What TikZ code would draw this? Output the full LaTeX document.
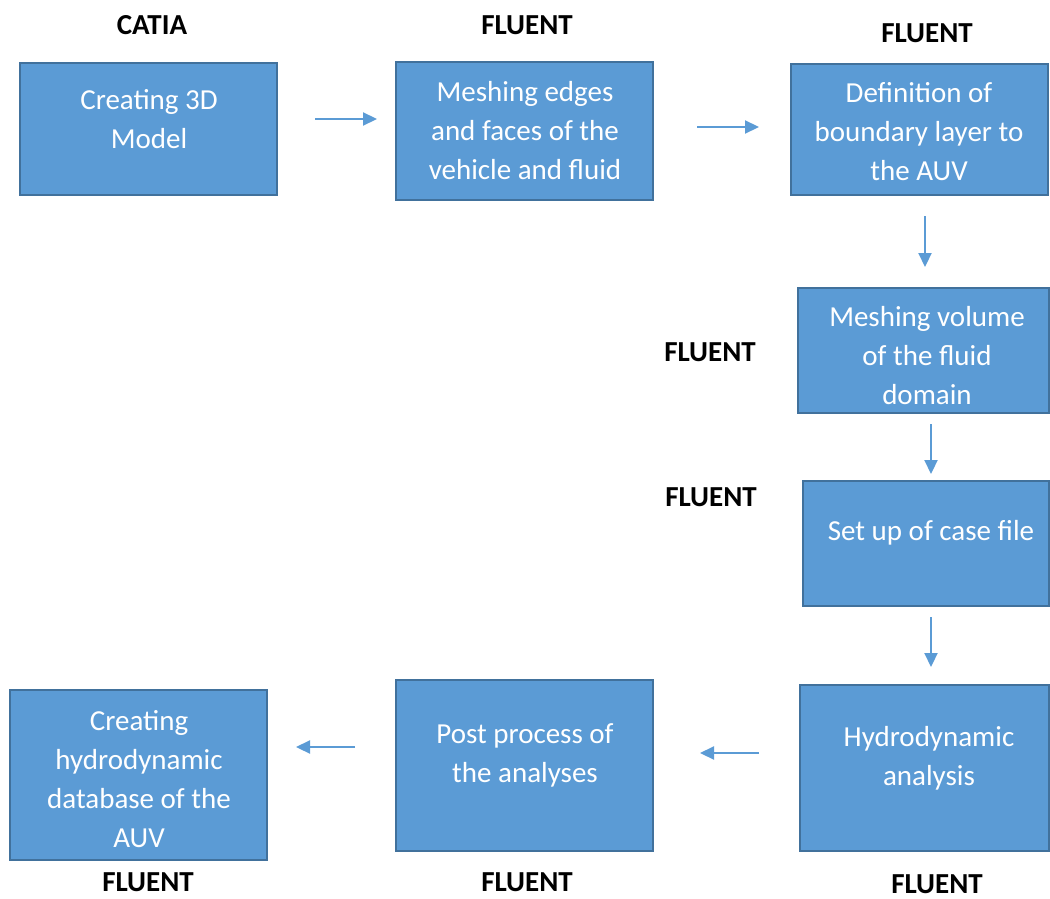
\documentclass[tikz,border=0pt]{standalone}
\usepackage{fontspec}
\setmainfont{Carlito}
\usetikzlibrary{arrows.meta}
\definecolor{boxfill}{HTML}{5B9BD5}
\definecolor{boxline}{HTML}{41719C}
\definecolor{arrowc}{HTML}{5B9BD5}
\tikzset{
  stepbox/.style={draw=boxline, fill=boxfill, line width=2pt, inner sep=0pt},
  boxtext/.style={text=white, align=center, font=\fontsize{29}{39}\selectfont, inner sep=0pt},
  toollabel/.style={font=\fontsize{29}{32}\selectfont\bfseries, inner sep=0pt},
  flow/.style={draw=arrowc, line width=2.2pt, -{Triangle[length=14pt,width=13pt]}}
}
\begin{document}
\begin{tikzpicture}[x=1pt,y=-1pt]
\useasboundingbox (0,0) rectangle (1050,899);
% boxes
\node[stepbox, minimum width=257pt, minimum height=132pt] (b1) at (148.5,129) {};
\node[stepbox, minimum width=257pt, minimum height=138pt] (b2) at (524.5,131) {};
\node[stepbox, minimum width=257pt, minimum height=131pt] (b3) at (919.5,129.5) {};
\node[stepbox, minimum width=251pt, minimum height=125pt] (b4) at (923.5,350.5) {};
\node[stepbox, minimum width=246pt, minimum height=125pt] (b5) at (926,543.5) {};
\node[stepbox, minimum width=249pt, minimum height=166pt] (b6) at (924.5,768) {};
\node[stepbox, minimum width=257pt, minimum height=171pt] (b7) at (524.5,765.5) {};
\node[stepbox, minimum width=257pt, minimum height=170pt] (b8) at (138.5,775) {};
% texts
\node[boxtext] (t1) at (149,119) {Creating 3D\\Model};
\node[boxtext] (t2) at (525,131) {Meshing edges\\and faces of the\\vehicle and fluid};
\node[boxtext] (t3) at (919,132) {Definition of\\boundary layer to\\the AUV};
\node[boxtext] (t4) at (927,356) {Meshing volume\\of the fluid\\domain};
\node[boxtext] (t5) at (931,533) {Set up of case file};
\node[boxtext] (t6) at (929,758) {Hydrodynamic\\analysis};
\node[boxtext] (t7) at (525,755) {Post process of\\the analyses};
\node[boxtext] (t8) at (139,779) {Creating\\hydrodynamic\\database of the\\AUV};
% tool labels
\node[toollabel] (l1) at (152,25) {CATIA};
\node[toollabel] (l2) at (527,25) {FLUENT};
\node[toollabel] (l3) at (927,33) {FLUENT};
\node[toollabel] (l4) at (710,352) {FLUENT};
\node[toollabel] (l5) at (711,497) {FLUENT};
\node[toollabel] (l6) at (148,882) {FLUENT};
\node[toollabel] (l7) at (527,882) {FLUENT};
\node[toollabel] (l8) at (937,884) {FLUENT};
% arrow end points
\coordinate (a1s) at (315,119); \coordinate (a1e) at (377,119);
\coordinate (a2s) at (697,127); \coordinate (a2e) at (759,127);
\coordinate (a3s) at (925,216); \coordinate (a3e) at (925,267);
\coordinate (a4s) at (931,424); \coordinate (a4e) at (931,474);
\coordinate (a5s) at (931,617); \coordinate (a5e) at (931,667);
\coordinate (a6s) at (759,753); \coordinate (a6e) at (700,753);
\coordinate (a7s) at (355,747); \coordinate (a7e) at (296,747);
\draw[flow] (a1s) -- (a1e);
\draw[flow] (a2s) -- (a2e);
\draw[flow] (a3s) -- (a3e);
\draw[flow] (a4s) -- (a4e);
\draw[flow] (a5s) -- (a5e);
\draw[flow] (a6s) -- (a6e);
\draw[flow] (a7s) -- (a7e);
\end{tikzpicture}
\end{document}
